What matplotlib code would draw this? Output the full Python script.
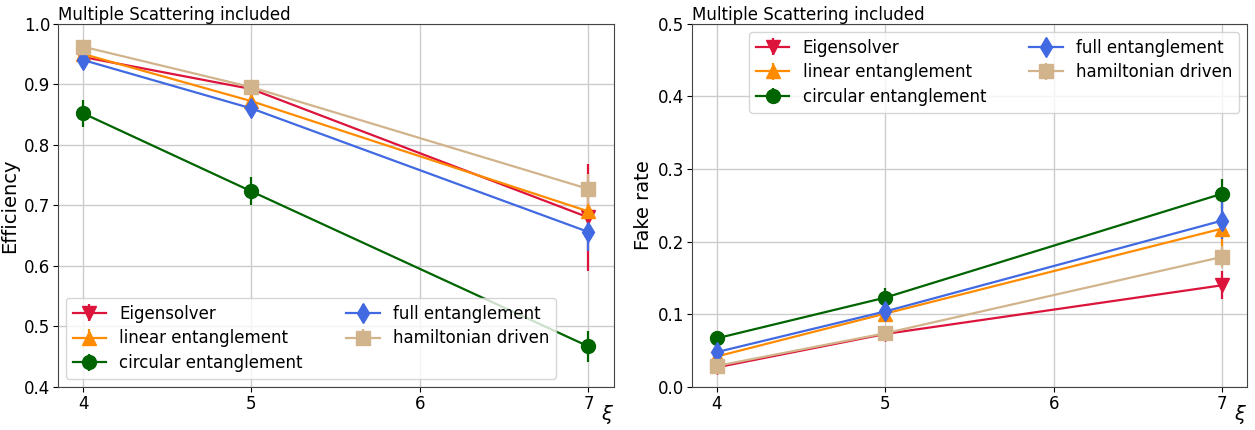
import matplotlib
matplotlib.use("Agg")
import matplotlib.pyplot as plt

xi = [4, 5, 7]

labels = ["Eigensolver", "linear entanglement", "circular entanglement",
          "full entanglement", "hamiltonian driven"]
colors = ["crimson", "darkorange", "darkgreen", "royalblue", "tan"]
markers = ["v", "^", "o", "d", "s"]

# efficiency (left panel)
eff_eigen = [0.945, 0.892, 0.68]
eff_eigen_err = [0.008, 0.010, 0.088]
eff_linear = [0.950, 0.872, 0.690]
eff_linear_err = [0.008, 0.010, 0.015]
eff_circular = [0.852, 0.723, 0.467]
eff_circular_err = [0.022, 0.023, 0.025]
eff_full = [0.940, 0.860, 0.656]
eff_full_err = [0.010, 0.012, 0.032]
eff_ham = [0.962, 0.895, 0.727]
eff_ham_err = [0.008, 0.010, 0.025]

# fake rate (right panel)
fake_eigen = [0.027, 0.073, 0.140]
fake_eigen_err = [0.006, 0.008, 0.019]
fake_linear = [0.042, 0.101, 0.218]
fake_linear_err = [0.006, 0.012, 0.030]
fake_circular = [0.067, 0.123, 0.266]
fake_circular_err = [0.010, 0.013, 0.020]
fake_full = [0.048, 0.104, 0.229]
fake_full_err = [0.006, 0.010, 0.025]
fake_ham = [0.029, 0.074, 0.179]
fake_ham_err = [0.006, 0.008, 0.015]

eff = [(eff_eigen, eff_eigen_err), (eff_linear, eff_linear_err),
       (eff_circular, eff_circular_err), (eff_full, eff_full_err),
       (eff_ham, eff_ham_err)]
fake = [(fake_eigen, fake_eigen_err), (fake_linear, fake_linear_err),
        (fake_circular, fake_circular_err), (fake_full, fake_full_err),
        (fake_ham, fake_ham_err)]

plt.rcParams['font.family'] = ['DejaVu Sans']
plt.rcParams['font.size'] = 12

fig = plt.figure(figsize=(12.55, 4.3), dpi=100)
ax1 = fig.add_axes([0.046, 0.100, 0.443, 0.845])
ax2 = fig.add_axes([0.551, 0.100, 0.443, 0.845])


def draw(ax, data, ylabel, ylim, legend_loc):
    for (vals, errs), lab, c, m in zip(data, labels, colors, markers):
        ax.errorbar(xi, vals, yerr=errs, label=lab, color=c, marker=m,
                    markersize=10, linewidth=1.6, elinewidth=1.6)
    ax.set_ylim(*ylim)
    ax.set_xticks([4, 5, 6, 7])
    ax.grid(True, color="#cccccc", linewidth=1)
    ax.set_axisbelow(True)
    ax.set_ylabel(ylabel, fontsize=14, labelpad=3)
    ax.set_xlabel(r"$\xi$", loc="right", fontsize=14)
    ax.xaxis.set_label_coords(1.0, -0.045)
    ax.set_title("Multiple Scattering included", loc="left", fontsize=12, pad=2)
    ax.tick_params(labelsize=12, pad=2)
    for s in ax.spines.values():
        s.set_color("#444444")
    ax.legend(loc=legend_loc, ncol=2, fontsize=12, handlelength=2,
              columnspacing=2.6, labelspacing=0.4)


draw(ax1, eff, "Efficiency", (0.4, 1.0), "lower left")
draw(ax2, fake, "Fake rate", (0.0, 0.5), "upper right")

fig.savefig("out.png", dpi=100)
